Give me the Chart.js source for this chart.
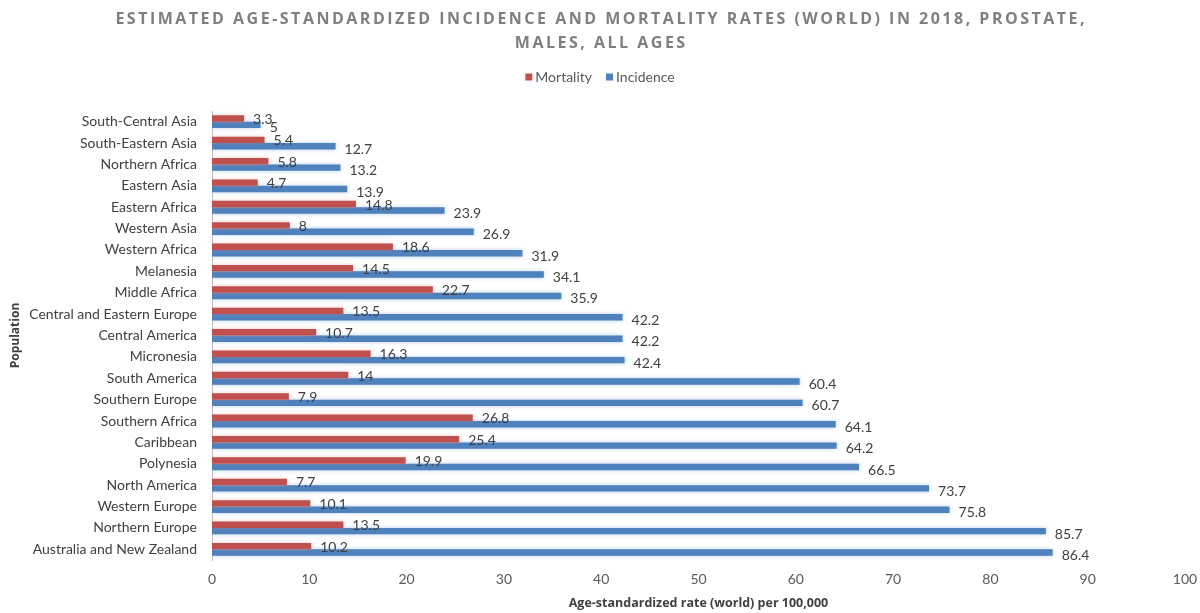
<!DOCTYPE html>
<html>
<head>
<meta charset="utf-8">
<title>Prostate cancer incidence and mortality, 2018</title>
<script src="https://cdn.jsdelivr.net/npm/chart.js@4.4.1/dist/chart.umd.min.js"></script>
<style>
  html, body { margin: 0; padding: 0; background: #ffffff; }
  #wrap { width: 1200px; height: 613px; position: relative; }
</style>
</head>
<body>
<div id="wrap"><canvas id="chart" width="1200" height="613"></canvas></div>
<script>
// Regions, ordered top to bottom
const regions = [
  'South-Central Asia', 'South-Eastern Asia', 'Northern Africa', 'Eastern Asia',
  'Eastern Africa', 'Western Asia', 'Western Africa', 'Melanesia', 'Middle Africa',
  'Central and Eastern Europe', 'Central America', 'Micronesia', 'South America',
  'Southern Europe', 'Southern Africa', 'Caribbean', 'Polynesia', 'North America',
  'Western Europe', 'Northern Europe', 'Australia and New Zealand'
];

// Age-standardized rates (world) per 100,000
const mortality = [3.3, 5.4, 5.8, 4.7, 14.8, 8, 18.6, 14.5, 22.7, 13.5, 10.7, 16.3,
  14, 7.9, 26.8, 25.4, 19.9, 7.7, 10.1, 13.5, 10.2];
const incidence = [5, 12.7, 13.2, 13.9, 23.9, 26.9, 31.9, 34.1, 35.9, 42.2, 42.2, 42.4,
  60.4, 60.7, 64.1, 64.2, 66.5, 73.7, 75.8, 85.7, 86.4];

const seriesNames = ['Mortality', 'Incidence'];
const xMin = 0, xMax = 100, xStep = 10;

const titleLines = [
  'ESTIMATED AGE-STANDARDIZED INCIDENCE AND MORTALITY RATES (WORLD) IN 2018, PROSTATE,',
  'MALES, ALL AGES'
];
const xTitle = 'Age-standardized rate (world) per 100,000';
const yTitle = 'Population';

const RED = '#C0504D';
const BLUE = '#4F81BD';
const FONT = 'Lato, "Open Sans", sans-serif';
const TITLE_FONT = '"Open Sans", sans-serif';

// Soft halo around the bars of each series
const glow = {
  id: 'barGlow',
  beforeDatasetDraw(chart, args) {
    const ctx = chart.ctx;
    ctx.save();
    ctx.shadowColor = args.index === 0 ? 'rgba(215,140,140,0.45)' : 'rgba(130,175,230,0.6)';
    ctx.shadowBlur = 4;
  },
  afterDatasetDraw(chart) {
    chart.ctx.restore();
  }
};

// Value labels to the right of each bar
const valueLabels = {
  id: 'valueLabels',
  afterDatasetsDraw(chart) {
    const ctx = chart.ctx;
    ctx.save();
    ctx.font = '14px ' + FONT;
    ctx.fillStyle = '#404040';
    ctx.textAlign = 'left';
    ctx.textBaseline = 'middle';
    chart.data.datasets.forEach((ds, di) => {
      const meta = chart.getDatasetMeta(di);
      meta.data.forEach((bar, i) => {
        const dy = di === 0 ? 1 : 3;
        ctx.fillText(String(ds.data[i]), bar.x + 9, bar.y + dy);
      });
    });
    ctx.restore();
  }
};

// Letter-spaced heading and centred legend
const heading = {
  id: 'heading',
  afterDraw(chart) {
    const ctx = chart.ctx;
    ctx.save();
    ctx.font = '700 16px ' + TITLE_FONT;
    ctx.fillStyle = '#7f7f7f';
    ctx.textAlign = 'center';
    ctx.textBaseline = 'middle';
    ctx.letterSpacing = '0px';
    const natural = ctx.measureText(titleLines[0]).width;
    const sp = Math.max(0, (972 - natural) / titleLines[0].length);
    ctx.letterSpacing = sp.toFixed(2) + 'px';
    titleLines.forEach((line, i) => ctx.fillText(line, 600 + sp / 2, 19 + i * 24));
    ctx.restore();

    // legend
    ctx.save();
    ctx.font = '14px ' + FONT;
    ctx.textBaseline = 'middle';
    ctx.textAlign = 'left';
    const box = 7, gapText = 3, gapItem = 14;
    const items = chart.data.datasets.map(ds => ({
      label: ds.label, color: ds.backgroundColor,
      w: box + gapText + ctx.measureText(ds.label).width
    }));
    const total = items.reduce((s, it) => s + it.w, 0) + gapItem * (items.length - 1);
    let x = 600 - total / 2;
    const y = 77;
    items.forEach(it => {
      ctx.fillStyle = it.color;
      ctx.fillRect(x, y - box / 2, box, box);
      ctx.fillStyle = '#595959';
      ctx.fillText(it.label, x + box + gapText, y + 0.5);
      x += it.w + gapItem;
    });
    ctx.restore();
  }
};

new Chart(document.getElementById('chart'), {
  type: 'bar',
  data: {
    labels: regions,
    datasets: [
      { label: seriesNames[0], data: mortality, backgroundColor: RED },
      { label: seriesNames[1], data: incidence, backgroundColor: BLUE }
    ]
  },
  options: {
    indexAxis: 'y',
    responsive: false,
    animation: false,
    devicePixelRatio: 1,
    categoryPercentage: 0.6,
    barPercentage: 1.0,
    layout: { padding: { top: 111, right: 15, bottom: 0, left: 0 } },
    plugins: {
      legend: { display: false },
      title: { display: false },
      tooltip: { enabled: false }
    },
    scales: {
      x: {
        min: xMin, max: xMax,
        ticks: { stepSize: xStep, color: '#595959', font: { family: FONT, size: 14 }, padding: 0 },
        // tick marks hidden; tickLength only spaces the labels below the plot
        grid: { display: false, drawTicks: true, tickLength: 11 },
        border: { display: false },
        title: {
          display: true, text: xTitle, color: '#404040',
          font: { family: TITLE_FONT, size: 12.5, weight: 'bold' },
          padding: { top: 0, bottom: 2 }
        },
        afterFit(scale) { scale.height = 53; }
      },
      y: {
        ticks: { color: '#404040', font: { family: FONT, size: 14 }, padding: 15, autoSkip: false },
        grid: { display: false, drawTicks: false },
        border: { display: true, color: '#bfbfbf', width: 1 },
        title: {
          display: true, text: yTitle, color: '#404040',
          font: { family: TITLE_FONT, size: 12, weight: 'bold' },
          padding: { top: 8, bottom: 0 }
        },
        afterFit(scale) { scale.width = 212; }
      }
    }
  },
  plugins: [glow, valueLabels, heading]
});
</script>
</body>
</html>
